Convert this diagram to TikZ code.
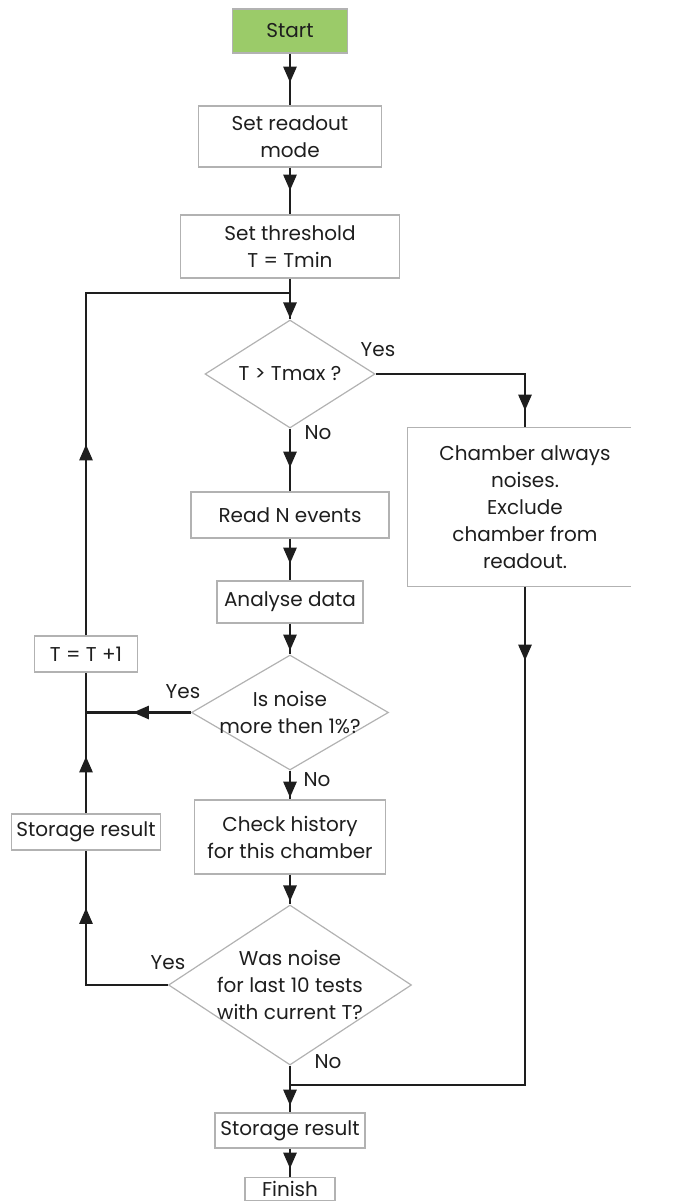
\documentclass[tikz,border=0pt]{standalone}
\usepackage{fontspec}
\setmainfont{Poppins}
\usetikzlibrary{arrows.meta,shapes.geometric,decorations.markings}
\definecolor{startgreen}{RGB}{155,203,105}
\definecolor{boxgray}{RGB}{178,178,178}
\definecolor{flowline}{RGB}{30,30,30}
\newcommand\flowfont{\fontsize{20}{27}\selectfont}
\begin{document}
\begin{tikzpicture}[x=1pt,y=-1pt,
  box/.style={draw=boxgray,line width=1.2pt,align=center,inner sep=0pt,font=\flowfont,text=flowline},
  decision/.style={diamond,draw=boxgray,line width=1.2pt,align=center,inner sep=0pt,aspect=1.6,font=\flowfont,text=flowline},
  flow/.style={draw=flowline,line width=2.8pt},
  arrowat/.style={postaction={decorate,decoration={markings,mark=at position #1 with {\arrow{Triangle[length=16pt,width=13pt]}}}}},
  tag/.style={inner sep=0pt,font=\flowfont,text=flowline}]
\useasboundingbox (0,0) rectangle (699,1202);
% main column
\node[box,fill=startgreen,minimum width=115,minimum height=44] (start) at (290,31) {Start};
\node[box,minimum width=183,minimum height=61] (readout) at (290,136.5) {Set readout\\mode};
\node[box,minimum width=219,minimum height=63] (thresh) at (290,246.5) {Set threshold\\T = Tmin};
\node[decision,minimum width=170,minimum height=108] (tmax) at (290,374) {T > Tmax ?};
\node[box,minimum width=198,minimum height=46] (readn) at (290,515) {Read N events};
\node[box,minimum width=146,minimum height=42] (analyse) at (290,602) {Analyse data};
\node[decision,minimum width=197,minimum height=115,inner xsep=-30pt] (noise) at (290,712.5) {Is noise\\more then 1\%?};
\node[box,minimum width=191,minimum height=74] (history) at (290,837) {Check history\\for this chamber};
\node[decision,minimum width=243,minimum height=160,inner xsep=-20pt] (tests) at (290,985) {Was noise\\for last 10 tests\\with current T?};
\node[box,minimum width=150,minimum height=35] (storeend) at (290,1130.5) {Storage result};
\node[box,minimum width=90,inner ysep=4pt,text depth=0pt,anchor=north] (finish) at (290,1177) {Finish};
% side boxes
\node[box,draw=none,minimum width=234,minimum height=158] (chamber) at (525,507) {Chamber always\\noises.\\Exclude\\chamber from\\readout.};
\draw[boxgray,line width=1.2pt] ([xshift=-12]chamber.north east) -- (chamber.north west) -- (chamber.south west) -- ([xshift=-12]chamber.south east);
\node[box,minimum width=103,minimum height=36] (tinc) at (86,654) {T = T +1};
\node[box,minimum width=149,minimum height=36] (storeloop) at (86,832) {Storage result};
% joins
\coordinate (looptop) at (290,293);
\coordinate (noisejoin) at (86,712.5);
\coordinate (endjoin) at (290,1085);
% labels
\node[tag] (yes1) at (378,350) {Yes};
\node[tag] (no1) at (318,433) {No};
\node[tag] (yes2) at (183,692) {Yes};
\node[tag] (no2) at (317,780) {No};
\node[tag] (yes3) at (168,963) {Yes};
\node[tag] (no3) at (328,1062) {No};
% connectors
\draw[flow,arrowat=29pt] (start) -- (readout);
\draw[flow,arrowat=23pt] (readout) -- (thresh);
\draw[flow,arrowat=-1pt] (thresh) -- (tmax);
\draw[flow,arrowat=39pt] (tmax) -- (readn);
\draw[flow,arrowat=25pt] (readn) -- (analyse);
\draw[flow,arrowat=27pt] (analyse) -- (noise);
\draw[flow,arrowat=27pt] (noise) -- (history);
\draw[flow,arrowat=-3pt] (history) -- (tests);
\draw[flow,arrowat=40pt] (tests) -- (storeend);
\draw[flow,arrowat=20pt] (storeend) -- (finish);
\draw[flow,arrowat=186pt] (tmax.east) -| (chamber.north);
\draw[flow,arrowat=74pt] (chamber.south) |- (endjoin);
\draw[flow,arrowat=58pt] (noise.west) -- (noisejoin);
\draw[flow,arrowat=159pt] (tests.west) -| (storeloop.south);
\draw[flow,arrowat=57pt] (storeloop.north) -- (tinc.south);
\draw[flow,arrowat=191pt] (tinc.north) |- (looptop);
\end{tikzpicture}
\end{document}
